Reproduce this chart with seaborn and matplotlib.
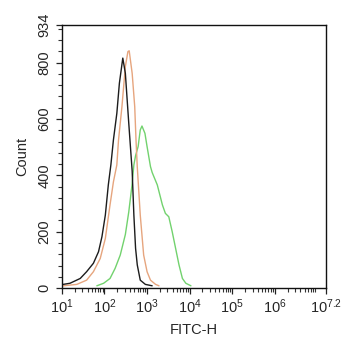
import matplotlib.pyplot as plt
import seaborn as sns
import numpy as np
import pandas as pd
from matplotlib.ticker import FixedLocator, NullFormatter

sns.set_style("ticks")
plt.rcParams['font.family'] = ['Liberation Sans', 'DejaVu Sans']
plt.rcParams['mathtext.default'] = 'regular'

# log10(FITC-H) positions and counts
black_log = [1.03, 1.19, 1.43, 1.58, 1.74, 1.86, 1.94, 2.02, 2.09, 2.15, 2.21, 2.29, 2.35, 2.43,
             2.49, 2.57, 2.65, 2.69, 2.73, 2.77, 2.84, 2.96, 3.12]
black_cnt = [13, 17, 34, 58, 88, 129, 182, 259, 366, 437, 526, 620, 727, 816,
             762, 585, 415, 259, 141, 82, 28, 13, 8]

orange_log = [1.03, 1.35, 1.58, 1.74, 1.90, 2.02, 2.13, 2.21, 2.29, 2.33, 2.41, 2.49, 2.55, 2.58,
              2.65, 2.71, 2.74, 2.77, 2.84, 2.92, 3.00, 3.08, 3.20, 3.28]
orange_cnt = [8, 13, 28, 58, 105, 176, 295, 377, 437, 526, 644, 786, 839, 842,
              762, 644, 526, 430, 259, 117, 58, 28, 13, 8]

green_log = [1.82, 1.98, 2.13, 2.25, 2.37, 2.49, 2.57, 2.65, 2.69, 2.73, 2.79, 2.84, 2.88, 2.95,
             3.00, 3.08, 3.12, 3.24, 3.36, 3.43, 3.51, 3.59, 3.67, 3.75, 3.83, 3.91, 4.03]
green_cnt = [8, 17, 34, 70, 117, 190, 270, 370, 437, 470, 502, 561, 575, 549,
             502, 431, 410, 366, 295, 265, 253, 200, 141, 82, 34, 17, 8]

xtick_exp = [1, 2, 3, 4, 5, 6, 7.2]
ytick_vals = [0, 200, 400, 600, 800, 934]

fig = plt.figure(figsize=(3.42, 3.5), dpi=100)
ax = fig.add_axes([0.181, 0.177, 0.772, 0.752])

for lx, cnt, col in [(green_log, green_cnt, '#72d26e'),
                     (orange_log, orange_cnt, '#e6a57e'),
                     (black_log, black_cnt, '#1c1c1c')]:
    df = pd.DataFrame({'x': 10 ** np.array(lx), 'y': cnt})
    sns.lineplot(data=df, x='x', y='y', ax=ax, color=col, lw=1.0, sort=False)

ax.set_xscale('log')
ax.set_xlim(10, 10 ** 7.2)
ax.set_ylim(0, 934)
ax.set_xticks([10 ** e for e in xtick_exp])
ax.set_xticklabels([f'10$^{{{e:g}}}$' for e in xtick_exp], fontsize=10.5)
minor_x = [m * 10.0 ** d for d in range(1, 8) for m in range(2, 10) if m * 10.0 ** d < 10 ** 7.2]
ax.xaxis.set_minor_locator(FixedLocator(minor_x))
ax.xaxis.set_minor_formatter(NullFormatter())
ax.set_yticks(ytick_vals)
ax.set_yticklabels([str(v) for v in ytick_vals], rotation=90, va='center', fontsize=10.5)
ax.set_yticks(np.arange(0, 934, 40), minor=True)

ax.tick_params(which='major', length=4.5, width=0.9, color='#222222', pad=2)
ax.tick_params(which='minor', length=3, width=0.8, color='#333333')
ax.tick_params(axis='y', pad=3)
for s in ax.spines.values():
    s.set_linewidth(1.0)
    s.set_color('#111111')

ax.set_xlabel('FITC-H', fontsize=10.5, labelpad=5)
ax.set_ylabel('Count', fontsize=10.5, labelpad=6)

fig.savefig('out.png', dpi=100)
